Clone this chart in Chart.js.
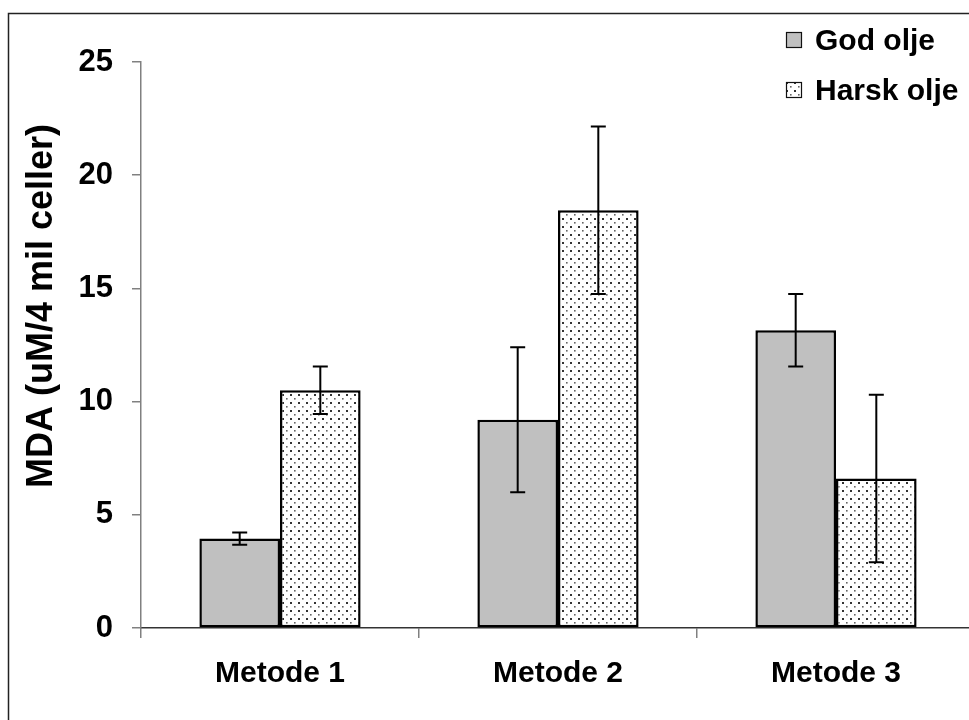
<!DOCTYPE html>
<html>
<head>
<meta charset="utf-8">
<script src="https://cdn.jsdelivr.net/npm/chart.js@4.4.1/dist/chart.umd.min.js"></script>
<style>
  html, body { margin: 0; padding: 0; overflow: hidden; background: #fff; }
  canvas { display: block; }
</style>
</head>
<body>
<canvas id="chart" width="990" height="720" style="width:990px;height:720px"></canvas>
<script>
// data
const categories = ['Metode 1', 'Metode 2', 'Metode 3'];
const seriesNames = ['God olje', 'Harsk olje'];
const godValues = [3.95, 9.2, 13.15];
const godErrors = [0.27, 3.2, 1.6];
const harskValues = [10.5, 18.45, 6.6];
const harskErrors = [1.05, 3.7, 3.7];
const yTicks = [0, 5, 10, 15, 20, 25];
const yTitle = 'MDA (uM/4 mil celler)';

const FONT = '"Liberation Sans", Arial, sans-serif';

// dotted fill like the excel pattern
function dotPattern() {
    const c = document.createElement('canvas');
    c.width = 8; c.height = 8;
    const g = c.getContext('2d');
    g.fillStyle = '#fff';
    g.fillRect(0, 0, 8, 8);
    g.fillStyle = '#333';
    g.fillRect(2, 2, 2, 2);
    g.fillStyle = '#666';
    g.fillRect(6, 6, 1.6, 1.6);
    return g.createPattern(c, 'repeat');
}
const dots = dotPattern();

const errorBars = {
    id: 'errorBars',
    afterDatasetsDraw(chart) {
        const ctx = chart.ctx;
        const y = chart.scales.y;
        const errs = [godErrors, harskErrors];
        ctx.save();
        ctx.strokeStyle = '#000';
        ctx.lineWidth = 2;
        chart.data.datasets.forEach((ds, di) => {
            chart.getDatasetMeta(di).data.forEach((bar, i) => {
                const v = ds.data[i];
                const e = errs[di][i];
                const top = y.getPixelForValue(v + e);
                const bot = y.getPixelForValue(v - e);
                ctx.beginPath();
                ctx.moveTo(bar.x, top); ctx.lineTo(bar.x, bot);
                ctx.moveTo(bar.x - 7.5, top); ctx.lineTo(bar.x + 7.5, top);
                ctx.moveTo(bar.x - 7.5, bot); ctx.lineTo(bar.x + 7.5, bot);
                ctx.stroke();
            });
        });
        ctx.restore();
    }
};

const frameAndText = {
    id: 'frameAndText',
    afterDraw(chart) {
        const ctx = chart.ctx;
        ctx.save();
        // outer frame of the figure
        ctx.strokeStyle = '#222';
        ctx.lineWidth = 1.5;
        ctx.strokeRect(8.5, 13.5, 1200, 1000);

        // y axis title
        ctx.fillStyle = '#000';
        ctx.font = 'bold 36px ' + FONT;
        ctx.textAlign = 'center';
        ctx.textBaseline = 'middle';
        ctx.translate(42, 306);
        ctx.rotate(-Math.PI / 2);
        ctx.fillText(yTitle, 0, 0);
        ctx.setTransform(1, 0, 0, 1, 0, 0);

        // legend
        const rows = [40, 90];
        chart.data.datasets.forEach((ds, i) => {
            const cy = rows[i];
            ctx.fillStyle = ds.backgroundColor;
            ctx.fillRect(786, cy - 7.5, 15, 15);
            ctx.strokeStyle = '#111';
            ctx.lineWidth = 1.2;
            ctx.strokeRect(786.5, cy - 7.5, 15, 15);
            ctx.fillStyle = '#000';
            ctx.font = 'bold 30px ' + FONT;
            ctx.textAlign = 'left';
            ctx.textBaseline = 'middle';
            ctx.fillText(ds.label, 815, cy + 1.5);
        });
        ctx.restore();
    }
};

new Chart(document.getElementById('chart'), {
    type: 'bar',
    data: {
        labels: categories,
        datasets: [
            {
                label: seriesNames[0],
                data: godValues,
                backgroundColor: '#c0c0c0',
                borderColor: '#000',
                borderWidth: 2.5,
                borderSkipped: false
            },
            {
                label: seriesNames[1],
                data: harskValues,
                backgroundColor: dots,
                borderColor: '#000',
                borderWidth: 2.5,
                borderSkipped: false
            }
        ]
    },
    options: {
        responsive: false,
        animation: false,
        devicePixelRatio: 1,
        layout: { padding: { top: 62, right: 15, left: 0, bottom: 0 } },
        datasets: { bar: { categoryPercentage: 0.58, barPercentage: 1 } },
        plugins: {
            legend: { display: false },
            tooltip: { enabled: false }
        },
        scales: {
            x: {
                offset: true,
                grid: {
                    offset: true,
                    drawOnChartArea: false,
                    drawTicks: true,
                    tickLength: 10,
                    color: '#808080',
                    lineWidth: 1.5
                },
                border: { color: '#333', width: 1.5 },
                ticks: {
                    color: '#000',
                    padding: 18,
                    font: { family: FONT, size: 30, weight: 'bold' }
                },
                afterFit(scale) { scale.height = 92; }
            },
            y: {
                min: 0,
                max: 25,
                afterBuildTicks(scale) { scale.ticks = yTicks.map(v => ({ value: v })); },
                grid: {
                    drawOnChartArea: false,
                    drawTicks: true,
                    tickLength: 9,
                    color: '#808080',
                    lineWidth: 1.5
                },
                border: { color: '#808080', width: 1.5 },
                ticks: {
                    color: '#000',
                    padding: 19,
                    font: { family: FONT, size: 31, weight: 'bold' }
                },
                afterFit(scale) { scale.width = 141; }
            }
        }
    },
    plugins: [errorBars, frameAndText]
});
</script>
</body>
</html>
